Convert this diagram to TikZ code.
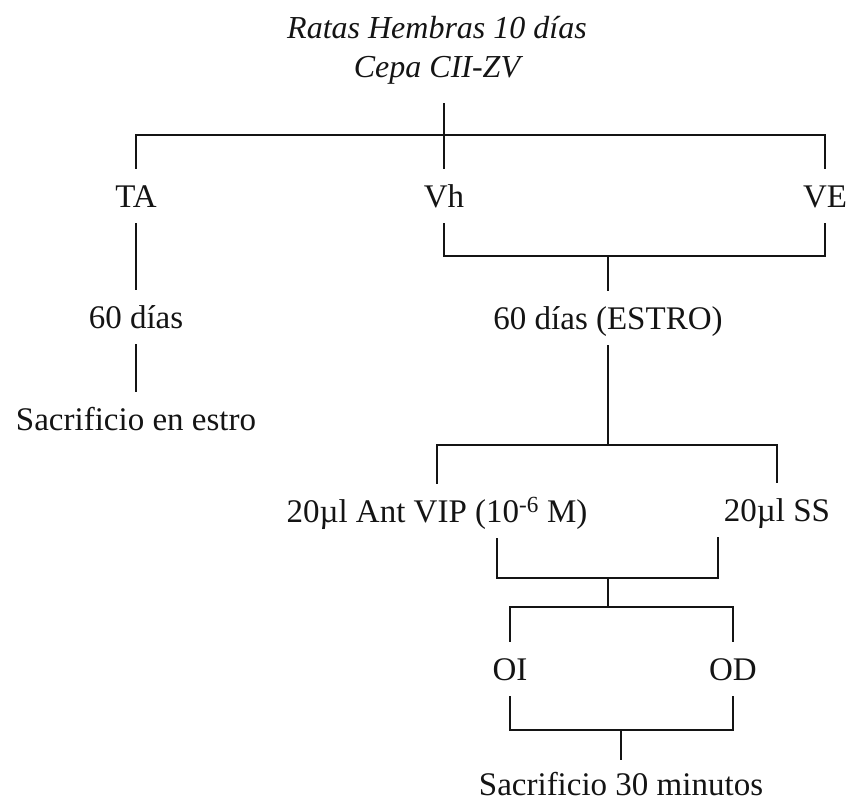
\documentclass[tikz,border=0pt]{standalone}
\usepackage{fontspec}
\setmainfont{Liberation Serif}
\usetikzlibrary{positioning, calc}
\definecolor{mydark}{RGB}{20,20,20}
\tikzset{
  lbl/.style={anchor=base, inner xsep=0pt, inner ysep=16pt,
    text height=22pt, text depth=0pt, text=mydark,
    font=\fontsize{33}{39}\selectfont},
  ttl/.style={anchor=base, align=center, inner sep=0pt, text=mydark,
    font=\fontsize{32}{39}\selectfont\itshape},
  line/.style={line width=2.8pt, color=mydark}
}

\begin{document}
\begin{tikzpicture}[x=1pt, y=-1pt]
  \useasboundingbox (0,0) rectangle (847,803);

  \node[ttl] (title) at (437,77) {Ratas Hembras 10 días\\Cepa CII-ZV};

  \node[lbl] (ta) at (136,207) {TA};
  \node[lbl] (vh) at (444,207) {Vh};
  \node[lbl] (ve) at (825,207) {VE};
  \node[lbl] (d60) at (136,328) {60 días};
  \node[lbl] (estro) at (608,329) {60 días (ESTRO)};
  \node[lbl] (sac1) at (136,430) {Sacrificio en estro};
  \node[lbl] (ant) at (437,522) {20µl Ant VIP (10\textsuperscript{-6} M)};
  \node[lbl] (ss) at (777,521) {20µl SS};
  \node[lbl] (oi) at (510,680) {OI};
  \node[lbl] (od) at (733,680) {OD};
  \node[lbl, inner ysep=13pt] (sac2) at (621,795) {Sacrificio 30 minutos};

  % Junctions
  \coordinate (j1) at (444,135);
  \coordinate (j2) at (608,256);
  \coordinate (j3) at (608,445);
  \coordinate (j4) at (608,578);
  \coordinate (j4l) at (497,578);
  \coordinate (j4r) at (718,578);
  \coordinate (j5) at (608,607);
  \coordinate (j6) at (621,730);

  % Connections
  \draw[line] ($(title.south -| vh)+(0,19)$) -- (vh.north);
  \draw[line] (ta.north) |- (j1) -| (ve.north);
  \draw[line] (ta.south) -- (d60.north);
  \draw[line] (d60.south) -- (sac1.north);
  \draw[line] (vh.south) |- (j2) -| (ve.south);
  \draw[line] (j2) -- (estro.north);
  \draw[line] (estro.south) -- (j3);
  \draw[line] (ant.north) |- (j3) -| (ss.north);
  \draw[line] (ant.south -| j4l) -- (j4l) -- (j4r) -- (ss.south -| j4r);
  \draw[line] (j4) -- (j5);
  \draw[line] (oi.north) |- (j5) -| (od.north);
  \draw[line] (oi.south) |- (j6) -| (od.south);
  \draw[line] (j6) -- (sac2.north);
\end{tikzpicture}
\end{document}
